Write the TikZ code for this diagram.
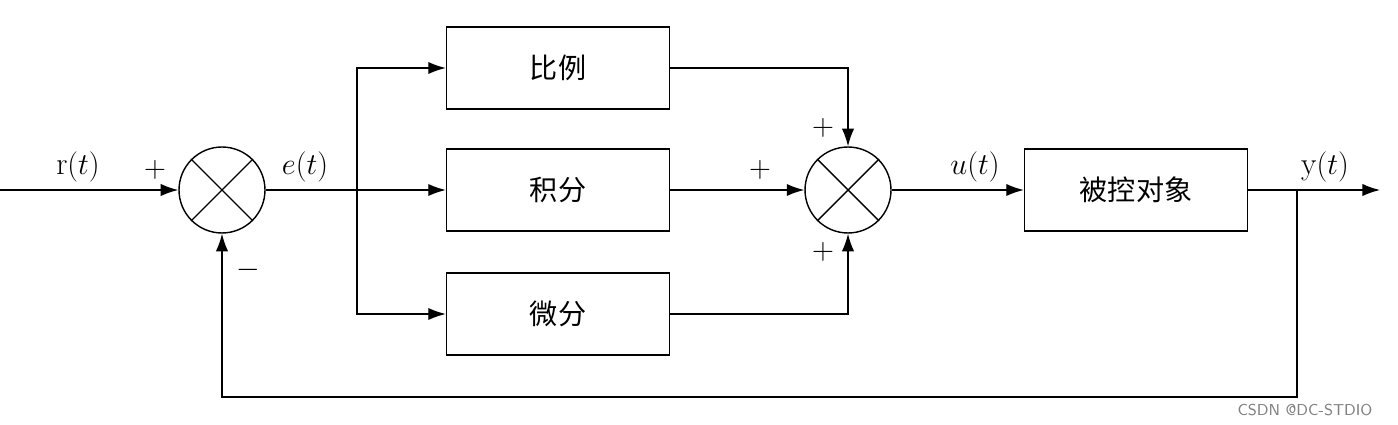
\documentclass[tikz,border=0pt]{standalone}
\usepackage{fontspec}
\newfontfamily\cjk{Noto Sans CJK SC}
\usetikzlibrary{arrows.meta}
\begin{document}
\begin{tikzpicture}[x=0.02cm,y=-0.02cm,
  blk/.style={draw,line width=0.8pt,minimum width=4.46cm,minimum height=1.64cm,font=\cjk\fontsize{16}{18}\selectfont},
  sumc/.style={draw,line width=0.8pt,circle,minimum size=1.72cm,inner sep=0pt},
  arr/.style={line width=0.8pt,-{Latex[length=10pt,width=7pt]}},
  ln/.style={line width=0.8pt},
  lbl/.style={font=\fontsize{18}{20}\selectfont}]
\useasboundingbox (0,0) rectangle (1398,425);
\node[sumc] (s1) at (222,190) {};
\draw[ln] (s1.north west) -- (s1.south east) (s1.north east) -- (s1.south west);
\node[sumc] (s2) at (848,190) {};
\draw[ln] (s2.north west) -- (s2.south east) (s2.north east) -- (s2.south west);
\node[blk] (p) at (558,68) {比例};
\node[blk] (i) at (558,190) {积分};
\node[blk] (d) at (558,314) {微分};
\node[blk] (g) at (1136,190) {被控对象};
\coordinate (in) at (0,190);
\coordinate (br) at (357,190);
\coordinate (out) at (1380,190);
\coordinate (fb) at (1297,190);
\draw[arr] (in) -- (s1);
\draw[ln] (s1) -- (br);
\draw[arr] (br) |- (p.west);
\draw[arr] (br) -- (i.west);
\draw[arr] (br) |- (d.west);
\draw[arr] (p.east) -| (s2.north);
\draw[arr] (i.east) -- (s2.west);
\draw[arr] (d.east) -| (s2.south);
\draw[arr] (s2.east) -- (g.west);
\draw[arr] (g.east) -- (out);
\draw[arr] (fb) -- (1297,397) -| (s1.south);
\node[lbl] (lr) at (78,167) {$\mathrm{r}(t)$};
\node[lbl] (le) at (305,167) {$e(t)$};
\node[lbl] (lu) at (975,167) {$u(t)$};
\node[lbl] (ly) at (1325,167) {$\mathrm{y}(t)$};
\node[lbl] (p1) at (155,170) {$+$};
\node[lbl] (m1) at (248,270) {$-$};
\node[lbl] (p2) at (823,128) {$+$};
\node[lbl] (p3) at (760,170) {$+$};
\node[lbl] (p4) at (823,252) {$+$};
\node[font=\fontsize{9}{10}\selectfont\sffamily,text=gray] (wm) at (1305,410) {CSDN @DC-STDIO};
\end{tikzpicture}
\end{document}
